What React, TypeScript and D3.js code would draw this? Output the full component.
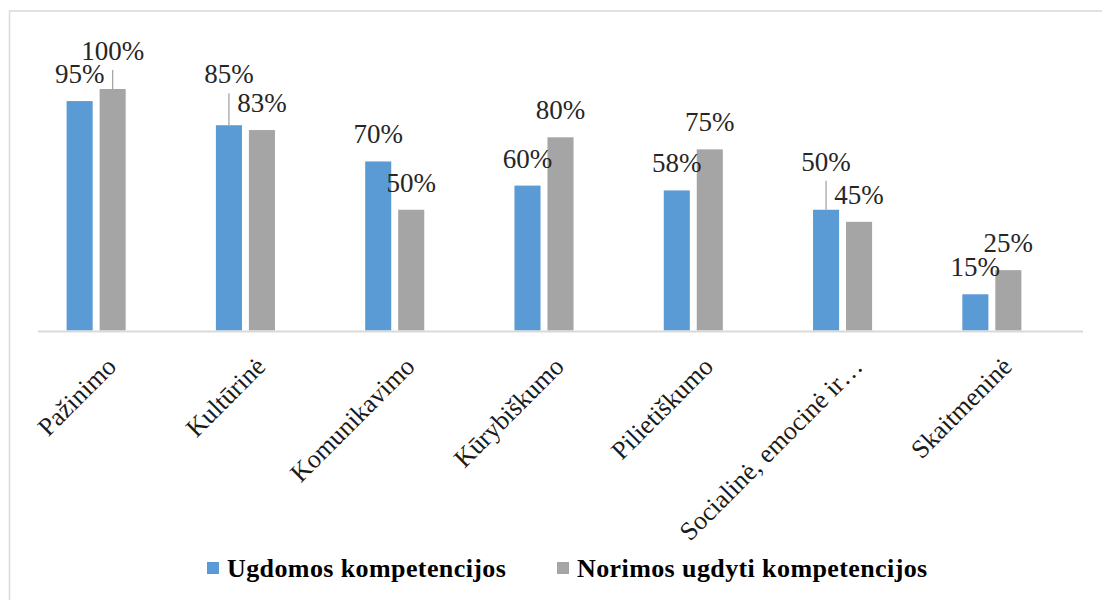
import React from "react";
import * as d3 from "d3";

const categories = [
  "Pažinimo",
  "Kultūrinė",
  "Komunikavimo",
  "Kūrybiškumo",
  "Pilietiškumo",
  "Socialinė, emocinė ir…",
  "Skaitmeninė",
];
const ugdomos = [95, 85, 70, 60, 58, 50, 15];
const norimos = [100, 83, 50, 80, 75, 45, 25];
const seriesNames = ["Ugdomos kompetencijos", "Norimos ugdyti kompetencijos"];
const seriesColors = ["#5b9bd5", "#a5a5a5"];

// labels that were dragged up in the original, with a leader line (series, category, lift px)
const liftedLabels: Array<[number, number, number]> = [
  [1, 0, 11],
  [0, 1, 24],
  [0, 5, 21],
];

const W = 1102;
const H = 600;
const FONT = "'Liberation Serif', 'Times New Roman', serif";

const App = () => {
  const x0 = d3.scaleBand<string>().domain(categories).range([38, 1083]);
  // excel left room for a third (empty) series slot in every group
  const groupW = 99;
  const x1 = d3
    .scaleBand<number>()
    .domain([0, 1, 2])
    .range([0, groupW])
    .paddingInner(0.21)
    .paddingOuter(0.105);
  const y = d3.scaleLinear().domain([0, 100]).range([330.5, 89]);

  const series = [ugdomos, norimos];

  const bars = series.flatMap((vals, si) =>
    vals.map((v, ci) => {
      const gx = x0(categories[ci])! + (x0.bandwidth() - groupW) / 2;
      const bx = gx + x1(si)!;
      const lift = liftedLabels.find((l) => l[0] === si && l[1] === ci);
      return {
        si,
        ci,
        v,
        x: bx,
        w: x1.bandwidth(),
        top: y(v),
        lift: lift ? lift[2] : 0,
      };
    })
  );

  return (
    <svg
      width={W}
      height={H}
      style={{ position: "fixed", left: 0, top: 0, background: "#fff" }}
      fontFamily={FONT}
    >
      <rect x={0} y={0} width={W} height={H} fill="#fff" />
      <rect
        x={9.5}
        y={11}
        width={W + 20}
        height={H + 20}
        fill="none"
        stroke="#d9d9d9"
        strokeWidth={1.5}
      />

      {bars.map((b) => (
        <rect
          key={`b${b.si}-${b.ci}`}
          x={b.x}
          y={b.top}
          width={b.w}
          height={y(0) - b.top}
          fill={seriesColors[b.si]}
        />
      ))}

      <line
        x1={x0.range()[0]}
        x2={x0.range()[1]}
        y1={331.5}
        y2={331.5}
        stroke="#d9d9d9"
        strokeWidth={2}
      />

      {bars.map((b) => {
        const cx = b.x + b.w / 2;
        const base = b.top - 18 - b.lift;
        return (
          <g key={`l${b.si}-${b.ci}`}>
            {b.lift > 0 && (
              <line
                x1={cx}
                x2={cx}
                y1={base + 10}
                y2={b.top}
                stroke="#a6a6a6"
                strokeWidth={1.3}
              />
            )}
            <text
              x={cx}
              y={base}
              textAnchor="middle"
              fontSize={27}
              fill="#262626"
            >
              {d3.format(".0f")(b.v)}%
            </text>
          </g>
        );
      })}

      {categories.map((c) => {
        const cx = x0(c)! + x0.bandwidth() / 2;
        return (
          <text
            key={c}
            transform={`translate(${cx + 5},368) rotate(-45)`}
            textAnchor="end"
            fontSize={26}
            fill="#1a1a1a"
          >
            {c}
          </text>
        );
      })}

      {seriesNames.map((s, i) => {
        const lx = [207, 557][i];
        return (
          <g key={s} transform={`translate(${lx},0)`}>
            <rect x={0} y={562} width={12} height={12} fill={seriesColors[i]} />
            <text
              x={20}
              y={577}
              fontSize={26}
              fontWeight="bold"
              letterSpacing={0.4}
              fill="#000"
            >
              {s}
            </text>
          </g>
        );
      })}
    </svg>
  );
};

export default App;
